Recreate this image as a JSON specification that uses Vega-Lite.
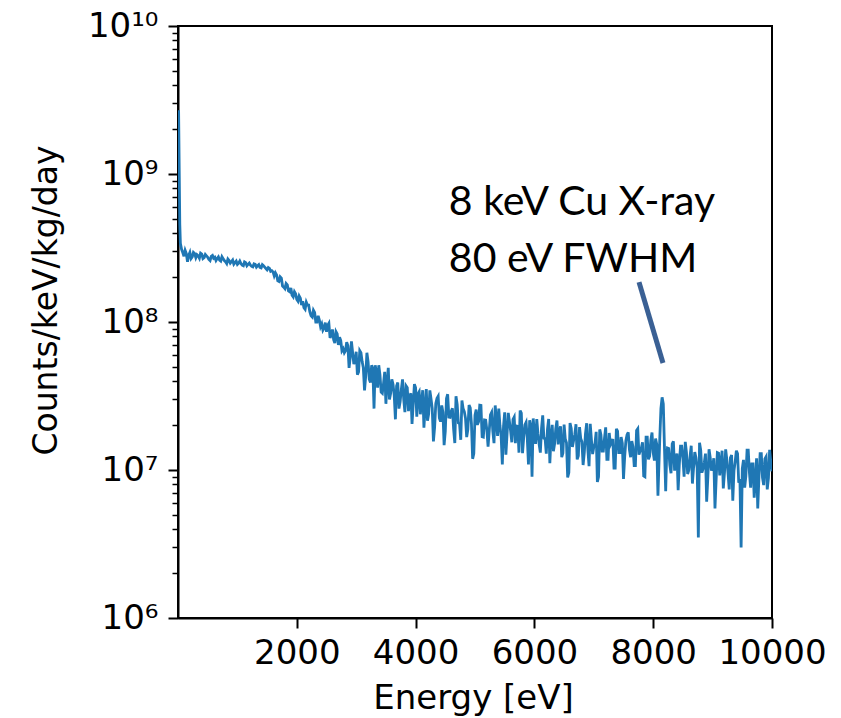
{
  "$schema": "https://vega.github.io/schema/vega-lite/v6.json",
  "width": 594,
  "height": 592,
  "autosize": {"type": "none"},
  "padding": {"left": 178, "top": 26, "right": 69, "bottom": 100},
  "background": "white",
  "config": {
    "view": {"stroke": "black", "strokeWidth": 2},
    "axis": {"labelFont": "DejaVu Sans", "titleFont": "DejaVu Sans", "labelColor": "black", "titleColor": "black", "titleFontWeight": "normal", "domainColor": "black", "tickColor": "black", "grid": false}
  },
  "datasets": {
    "spectrum": [
      {"E":10,"C":2.7e9},{"E":20,"C":1.1e9},{"E":30,"C":4.6e8},{"E":40,"C":3.4e8},{"E":60,"C":3.1e8},{"E":80,"C":2.95e8},{"E":120,"C":3.05e8},{"E":160,"C":2.55e8},{"E":200,"C":2.95e8},{"E":240,"C":2.75e8},{"E":280,"C":2.9e8},{"E":320,"C":2.85e8},{"E":360,"C":2.7e8},{"E":400,"C":2.88e8},{"E":440,"C":2.72e8},{"E":480,"C":2.8e8},{"E":520,"C":2.65e8},{"E":560,"C":2.78e8},{"E":600,"C":2.7e8},{"E":640,"C":2.6e8},{"E":680,"C":2.75e8},{"E":720,"C":2.58e8},{"E":760,"C":2.68e8},{"E":800,"C":2.55e8},{"E":840,"C":2.66e8},{"E":880,"C":2.5e8},{"E":920,"C":2.62e8},{"E":960,"C":2.52e8},{"E":1000,"C":2.45e8},{"E":1040,"C":2.58e8},{"E":1080,"C":2.42e8},{"E":1120,"C":2.55e8},{"E":1160,"C":2.4e8},{"E":1200,"C":2.5e8},{"E":1240,"C":2.38e8},{"E":1280,"C":2.47e8},{"E":1320,"C":2.35e8},{"E":1360,"C":2.44e8},{"E":1400,"C":2.32e8},{"E":1440,"C":2.4e8},{"E":1480,"C":2.3e8},{"E":1520,"C":2.33e8},{"E":1560,"C":2.2e8},{"E":1600,"C":2.18e8},
      {"E":1640,"C":2.15e8},{"E":1680,"C":1.9e8},{"E":1720,"C":2.02e8},{"E":1760,"C":1.75e8},{"E":1800,"C":1.68e8},{"E":1840,"C":1.78e8},{"E":1880,"C":1.6e8},{"E":1920,"C":1.52e8},{"E":1960,"C":1.6e8},{"E":2000,"C":1.42e8},{"E":2040,"C":1.5e8},{"E":2080,"C":1.3e8},{"E":2120,"C":1.25e8},{"E":2160,"C":1.36e8},{"E":2200,"C":1.3e8},{"E":2240,"C":1.1e8},{"E":2280,"C":1.2e8},{"E":2320,"C":1.0e8},{"E":2360,"C":1.1e8},{"E":2400,"C":9.3e7},{"E":2440,"C":8.8e7},{"E":2480,"C":9.9e7},{"E":2520,"C":9.5e7},{"E":2560,"C":7.8e7},{"E":2600,"C":8.9e7},{"E":2640,"C":7.2e7},{"E":2680,"C":8.3e7},{"E":2720,"C":7.9e7},{"E":2760,"C":6.4e7},{"E":2800,"C":6.2e7},{"E":2840,"C":7.3e7},{"E":2880,"C":4.9e7},{"E":2920,"C":7.4e7},{"E":2960,"C":5.2e7},{"E":3000,"C":6.3e7},
      {"E":3040,"C":4.6e7},{"E":3080,"C":6.2e7},{"E":3120,"C":4.9e7},{"E":3160,"C":4.3e7},{"E":3200,"C":5.4e7},{"E":3240,"C":3.9e7},{"E":3280,"C":4.8e7},{"E":3320,"C":5.1e7},{"E":3360,"C":3.6e7},{"E":3400,"C":4.4e7},{"E":3440,"C":3.3e7},{"E":3480,"C":4.6e7},{"E":3520,"C":3.9e7},{"E":3560,"C":3.0e7},{"E":3600,"C":4.1e7},{"E":3640,"C":3.2e7},{"E":3680,"C":3.7e7},{"E":3720,"C":2.6e7},{"E":3760,"C":3.5e7},{"E":3800,"C":3.0e7},{"E":3840,"C":3.7e7},{"E":3880,"C":2.5e7},{"E":3920,"C":3.3e7},{"E":3960,"C":2.8e7},{"E":4000,"C":3.6e7},
      {"E":4040,"C":3.27e7},{"E":4080,"C":2.38e7},{"E":4120,"C":3.46e7},{"E":4160,"C":2.59e7},{"E":4200,"C":2.15e7},{"E":4240,"C":3.45e7},{"E":4280,"C":2.61e7},{"E":4320,"C":1.94e7},{"E":4360,"C":3.05e7},{"E":4400,"C":2.25e7},{"E":4440,"C":2.73e7},{"E":4480,"C":1.47e7},{"E":4520,"C":3.04e7},{"E":4560,"C":2.28e7},{"E":4600,"C":2.5e7},{"E":4640,"C":1.89e7},{"E":4680,"C":3.15e7},{"E":4720,"C":2.08e7},{"E":4760,"C":1.6e7},{"E":4800,"C":2.6e7},{"E":4840,"C":2.24e7},{"E":4880,"C":1.88e7},{"E":4920,"C":2.63e7},{"E":4960,"C":1.19e7},{"E":5000,"C":2.35e7},{"E":5040,"C":2.02e7},{"E":5080,"C":2.74e7},{"E":5120,"C":1.68e7},{"E":5160,"C":2.18e7},{"E":5200,"C":1.86e7},
      {"E":5240,"C":1.85e7},{"E":5280,"C":2.45e7},{"E":5320,"C":1.52e7},{"E":5360,"C":2.21e7},{"E":5400,"C":2.6e7},{"E":5440,"C":1.69e7},{"E":5480,"C":1.97e7},{"E":5520,"C":1.27e7},{"E":5560,"C":2.43e7},{"E":5600,"C":1.83e7},{"E":5640,"C":2.2e7},{"E":5680,"C":1.52e7},{"E":5720,"C":1.97e7},{"E":5760,"C":2.52e7},{"E":5800,"C":1.3e7},{"E":5840,"C":2.02e7},{"E":5880,"C":1.64e7},{"E":5920,"C":2.17e7},{"E":5960,"C":9.0e6},{"E":6000,"C":1.78e7},{"E":6040,"C":2.21e7},{"E":6080,"C":1.49e7},{"E":6120,"C":1.91e7},{"E":6160,"C":1.64e7},{"E":6200,"C":1.29e7},{"E":6240,"C":2.21e7},{"E":6280,"C":1.69e7},{"E":6320,"C":1.34e7},{"E":6360,"C":1.91e7},{"E":6400,"C":1.49e7},
      {"E":6440,"C":1.97e7},{"E":6480,"C":1.3e7},{"E":6520,"C":1.62e7},{"E":6560,"C":8.9e6},{"E":6600,"C":2.08e7},{"E":6640,"C":1.43e7},{"E":6680,"C":1.74e7},{"E":6720,"C":1.18e7},{"E":6760,"C":1.95e7},{"E":6800,"C":1.55e7},{"E":6840,"C":1.31e7},{"E":6880,"C":2.07e7},{"E":6920,"C":1.06e7},{"E":6960,"C":1.6e7},{"E":7000,"C":1.43e7},{"E":7040,"C":1.81e7},{"E":7080,"C":9.0e6},{"E":7120,"C":1.73e7},{"E":7160,"C":1.34e7},{"E":7200,"C":1.94e7},{"E":7240,"C":1.18e7},{"E":7280,"C":1.48e7},{"E":7320,"C":1.62e7},{"E":7360,"C":1.03e7},{"E":7400,"C":1.83e7},{"E":7440,"C":1.31e7},{"E":7480,"C":1.52e7},{"E":7520,"C":1.23e7},{"E":7560,"C":1.73e7},{"E":7600,"C":1.37e7},
      {"E":7640,"C":1.57e7},{"E":7680,"C":1.07e7},{"E":7720,"C":1.85e7},{"E":7760,"C":1.27e7},{"E":7800,"C":1.41e7},{"E":7840,"C":9.1e6},{"E":7880,"C":1.67e7},{"E":7920,"C":1.18e7},{"E":7960,"C":1.59e7},{"E":8000,"C":1.31e7},{"E":8040,"C":1.63e7},{"E":8080,"C":6.7e6},{"E":8110,"C":1.6e7},{"E":8130,"C":2.6e7},{"E":8150,"C":3.1e7},{"E":8170,"C":2.8e7},{"E":8190,"C":1.4e7},{"E":8210,"C":7.2e6},{"E":8240,"C":1.41e7},{"E":8280,"C":1.08e7},{"E":8320,"C":1.5e7},{"E":8360,"C":9.9e6},{"E":8400,"C":1.29e7},{"E":8440,"C":1.1e7},{"E":8480,"C":1.45e7},{"E":8520,"C":9.0e6},{"E":8560,"C":1.31e7},{"E":8600,"C":1.0e7},{"E":8640,"C":1.46e7},{"E":8680,"C":1.04e7},{"E":8720,"C":1.21e7},{"E":8760,"C":3.5e6},{"E":8800,"C":1.36e7},{"E":8840,"C":1.02e7},{"E":8880,"C":1.29e7},{"E":8920,"C":8.9e6},{"E":8960,"C":1.21e7},{"E":9000,"C":1.05e7},
      {"E":9040,"C":5.5e6},{"E":9080,"C":1.31e7},{"E":9120,"C":9.2e6},{"E":9160,"C":1.35e7},{"E":9200,"C":9.6e6},{"E":9240,"C":1.17e7},{"E":9280,"C":7.4e6},{"E":9320,"C":1.26e7},{"E":9360,"C":9.9e6},{"E":9400,"C":1.35e7},{"E":9440,"C":8.2e6},{"E":9480,"C":3.0e6},{"E":9520,"C":1.17e7},{"E":9560,"C":9.1e6},{"E":9600,"C":1.36e7},{"E":9640,"C":7.6e6},{"E":9680,"C":1.1e7},{"E":9720,"C":8.5e6},{"E":9760,"C":5.5e6},{"E":9800,"C":1.29e7},{"E":9840,"C":8.9e6},{"E":9880,"C":1.19e7},{"E":9920,"C":7.4e6},{"E":9960,"C":1.37e7},{"E":10000,"C":9.8e6},
      {"E":100,"C":2.78e8},{"E":140,"C":2.9e8},{"E":180,"C":2.82e8},{"E":220,"C":2.68e8},{"E":260,"C":2.95e8},{"E":300,"C":2.72e8},{"E":340,"C":2.8e8},{"E":380,"C":2.92e8},{"E":420,"C":2.68e8},{"E":460,"C":2.86e8},{"E":500,"C":2.74e8},{"E":540,"C":2.6e8},{"E":580,"C":2.82e8},{"E":620,"C":2.74e8},{"E":660,"C":2.68e8},{"E":700,"C":2.62e8},{"E":740,"C":2.76e8},{"E":780,"C":2.6e8},{"E":820,"C":2.48e8},{"E":860,"C":2.6e8},{"E":900,"C":2.56e8},{"E":940,"C":2.46e8},{"E":980,"C":2.58e8},{"E":1020,"C":2.5e8},{"E":1060,"C":2.48e8},{"E":1100,"C":2.4e8},{"E":1140,"C":2.52e8},{"E":1180,"C":2.45e8},{"E":1220,"C":2.42e8},{"E":1260,"C":2.36e8},{"E":1300,"C":2.45e8},{"E":1340,"C":2.4e8},{"E":1380,"C":2.34e8},{"E":1420,"C":2.44e8},{"E":1460,"C":2.35e8},{"E":1500,"C":2.25e8},{"E":1540,"C":2.3e8},{"E":1580,"C":2.22e8},
      {"E":1620,"C":2.05e8},{"E":1660,"C":2.08e8},{"E":1700,"C":1.88e8},{"E":1740,"C":1.98e8},{"E":1780,"C":1.72e8},{"E":1820,"C":1.82e8},{"E":1860,"C":1.62e8},{"E":1900,"C":1.7e8},{"E":1940,"C":1.48e8},{"E":1980,"C":1.55e8},{"E":2020,"C":1.38e8},{"E":2060,"C":1.45e8},{"E":2100,"C":1.38e8},{"E":2140,"C":1.22e8},{"E":2180,"C":1.3e8},{"E":2220,"C":1.17e8},{"E":2260,"C":1.08e8},{"E":2300,"C":1.16e8},{"E":2340,"C":1.0e8},{"E":2380,"C":1.03e8},{"E":2420,"C":9.7e7},{"E":2460,"C":9.1e7},{"E":2500,"C":8.6e7},{"E":2540,"C":9.8e7},{"E":2580,"C":8.2e7},{"E":2620,"C":7.6e7},{"E":2660,"C":8.6e7},{"E":2700,"C":7.0e7},{"E":2740,"C":7.5e7},{"E":2780,"C":6.6e7},{"E":2820,"C":6.4e7},{"E":2860,"C":6.9e7},{"E":2900,"C":5.8e7},{"E":2940,"C":6.2e7},{"E":2980,"C":5.5e7},
      {"E":3020,"C":4.4e7},{"E":3060,"C":6.4e7},{"E":3100,"C":5.4e7},{"E":3140,"C":3.45e7},{"E":3180,"C":6.2e7},{"E":3220,"C":4.1e7},{"E":3260,"C":5.1e7},{"E":3300,"C":2.6e7},{"E":3340,"C":4.6e7},{"E":3380,"C":5.1e7},{"E":3420,"C":3.36e7},{"E":3460,"C":3.85e7},{"E":3500,"C":2.8e7},{"E":3540,"C":4.9e7},{"E":3580,"C":3.3e7},{"E":3620,"C":3.8e7},{"E":3660,"C":2.2e7},{"E":3700,"C":3.9e7},{"E":3740,"C":2.9e7},{"E":3780,"C":4.1e7},{"E":3820,"C":2.46e7},{"E":3860,"C":3.6e7},{"E":3900,"C":3.1e7},{"E":3940,"C":2.05e7},{"E":3980,"C":3.8e7},
      {"E":4020,"C":2.29e7},{"E":4060,"C":3.38e7},{"E":4100,"C":2.92e7},{"E":4140,"C":1.93e7},{"E":4180,"C":3.52e7},{"E":4220,"C":2.4e7},{"E":4260,"C":3.02e7},{"E":4300,"C":1.56e7},{"E":4340,"C":2.82e7},{"E":4380,"C":3.15e7},{"E":4420,"C":2.12e7},{"E":4460,"C":2.46e7},{"E":4500,"C":1.83e7},{"E":4540,"C":3.25e7},{"E":4580,"C":2.27e7},{"E":4620,"C":2.61e7},{"E":4660,"C":1.52e7},{"E":4700,"C":2.78e7},{"E":4740,"C":2.06e7},{"E":4780,"C":2.95e7},
      {"E":4820,"C":2.48e7},{"E":4860,"C":1.67e7},{"E":4900,"C":2.75e7},{"E":4940,"C":2.06e7},{"E":4980,"C":1.29e7},{"E":5020,"C":2.56e7},{"E":5060,"C":2.12e7},{"E":5100,"C":2.73e7},{"E":5140,"C":1.67e7},{"E":5180,"C":2.17e7},{"E":5220,"C":1.44e7},{"E":5260,"C":2.36e7},{"E":5300,"C":1.83e7},{"E":5340,"C":2.73e7},{"E":5380,"C":1.7e7},{"E":5420,"C":1.99e7},{"E":5460,"C":1.09e7},{"E":5500,"C":2.45e7},{"E":5540,"C":1.76e7},{"E":5580,"C":2.12e7},
      {"E":5620,"C":1.54e7},{"E":5660,"C":2.28e7},{"E":5700,"C":1.98e7},{"E":5740,"C":1.31e7},{"E":5780,"C":2.42e7},{"E":5820,"C":1.66e7},{"E":5860,"C":2.1e7},{"E":5900,"C":1.09e7},{"E":5940,"C":1.98e7},{"E":5980,"C":2.23e7},{"E":6020,"C":1.5e7},{"E":6060,"C":1.76e7},{"E":6100,"C":1.31e7},{"E":6140,"C":2.34e7},{"E":6180,"C":1.63e7},{"E":6220,"C":1.88e7},{"E":6260,"C":1.11e7},{"E":6300,"C":2.02e7},{"E":6340,"C":1.5e7},{"E":6380,"C":2.16e7},
      {"E":6420,"C":1.82e7},{"E":6460,"C":1.22e7},{"E":6500,"C":2.03e7},{"E":6540,"C":1.53e7},{"E":6580,"C":9.6e6},{"E":6620,"C":1.91e7},{"E":6660,"C":1.58e7},{"E":6700,"C":2.04e7},{"E":6740,"C":1.25e7},{"E":6780,"C":1.63e7},{"E":6820,"C":1.08e7},{"E":6860,"C":1.76e7},{"E":6900,"C":1.37e7},{"E":6940,"C":2.05e7},{"E":6980,"C":1.28e7},{"E":7020,"C":1.51e7},{"E":7060,"C":8.3e6},{"E":7100,"C":1.88e7},{"E":7140,"C":1.34e7},{"E":7180,"C":1.64e7},
      {"E":7220,"C":1.18e7},{"E":7260,"C":1.78e7},{"E":7300,"C":1.54e7},{"E":7340,"C":1.03e7},{"E":7380,"C":1.9e7},{"E":7420,"C":1.31e7},{"E":7460,"C":1.67e7},{"E":7500,"C":8.7e6},{"E":7540,"C":1.58e7},{"E":7580,"C":1.8e7},{"E":7620,"C":1.22e7},{"E":7660,"C":1.43e7},{"E":7700,"C":1.07e7},{"E":7740,"C":1.9e7},{"E":7780,"C":1.34e7},{"E":7820,"C":1.54e7},{"E":7860,"C":9.0e6},{"E":7900,"C":1.67e7},{"E":7940,"C":1.24e7},{"E":7980,"C":1.79e7},{"E":8020,"C":1.16e7},{"E":8060,"C":1.49e7},{"E":8225,"C":1.2e7},
      {"E":8260,"C":1.4e7},{"E":8300,"C":9.5e6},{"E":8340,"C":1.56e7},{"E":8380,"C":1.17e7},{"E":8420,"C":7.3e6},{"E":8460,"C":1.45e7},{"E":8500,"C":1.2e7},{"E":8540,"C":1.55e7},{"E":8580,"C":9.4e6},{"E":8620,"C":1.23e7},{"E":8660,"C":8.1e6},{"E":8700,"C":1.32e7},{"E":8740,"C":1.03e7},{"E":8780,"C":1.53e7},{"E":8820,"C":9.6e6},{"E":8860,"C":1.12e7},{"E":8900,"C":6.1e6},{"E":8940,"C":1.38e7},{"E":8980,"C":9.9e6},{"E":9020,"C":1.2e7},
      {"E":9060,"C":8.7e6},{"E":9100,"C":1.3e7},{"E":9140,"C":1.13e7},{"E":9180,"C":7.5e6},{"E":9220,"C":1.38e7},{"E":9260,"C":9.5e6},{"E":9300,"C":1.21e7},{"E":9340,"C":6.2e6},{"E":9380,"C":1.14e7},{"E":9420,"C":1.29e7},{"E":9460,"C":8.7e6},{"E":9500,"C":1.02e7},{"E":9540,"C":7.6e6},{"E":9580,"C":1.36e7},{"E":9620,"C":9.6e6},{"E":9660,"C":1.1e7},{"E":9700,"C":6.5e6},{"E":9740,"C":1.2e7},{"E":9780,"C":8.9e6},{"E":9820,"C":1.29e7},{"E":9860,"C":7.9e6},{"E":9900,"C":1.23e7},{"E":9940,"C":8.8e6},{"E":9980,"C":1.13e7}
    ]
  },
  "layer": [
    {
      "data": {"name": "spectrum"},
      "mark": {"type": "line", "color": "#1f77b4", "strokeWidth": 2.8, "clip": true},
      "encoding": {
        "x": {"field": "E", "type": "quantitative", "sort": "ascending",
          "scale": {"domain": [0, 10000], "nice": false, "zero": false},
          "axis": {"title": "Energy [eV]", "values": [2000, 4000, 6000, 8000, 10000], "format": "d", "labelFontSize": 34, "titleFontSize": 34, "tickSize": 10, "tickWidth": 2, "domainWidth": 2, "labelPadding": 8, "labelFlush": false, "titleX": 295, "titleY": 90, "titleBaseline": "alphabetic", "titleAnchor": "middle", "titleAlign": "center"}},
        "y": {"field": "C", "type": "quantitative",
          "scale": {"type": "log", "domain": [1000000, 10000000000], "nice": false},
          "axis": {"title": "Counts/keV/kg/day", "orient": "left", "values": [1000000, 10000000, 100000000, 1000000000, 10000000000],
            "labelExpr": "datum.value >= 9e9 ? '10¹⁰' : datum.value >= 9e8 ? '10⁹' : datum.value >= 9e7 ? '10⁸' : datum.value >= 9e6 ? '10⁷' : '10⁶'",
            "labelFontSize": 34, "titleFontSize": 33, "tickSize": 10, "tickWidth": 2, "domainWidth": 2, "labelPadding": 10, "labelFlush": false,
            "titleX": -132, "titleY": 274, "titleAngle": -90, "titleBaseline": "middle", "titleAlign": "center", "titleAnchor": "middle"}}
      }
    },
    {
      "data": {"values": [{"E": 7761, "C": 186000000, "E2": 8165, "C2": 52800000}]},
      "mark": {"type": "rule", "color": "#3a6094", "strokeWidth": 5, "strokeCap": "butt"},
      "encoding": {
        "x": {"field": "E", "type": "quantitative", "axis": null},
        "x2": {"field": "E2"},
        "y": {"field": "C", "type": "quantitative",
          "axis": {"title": null, "orient": "left", "labels": false, "domain": false, "tickSize": 6, "tickWidth": 1.5,
            "values": [2000000, 3000000, 4000000, 5000000, 6000000, 7000000, 8000000, 9000000, 20000000, 30000000, 40000000, 50000000, 60000000, 70000000, 80000000, 90000000, 200000000, 300000000, 400000000, 500000000, 600000000, 700000000, 800000000, 900000000, 2000000000, 3000000000, 4000000000, 5000000000, 6000000000, 7000000000, 8000000000, 9000000000]}},
        "y2": {"field": "C2"}
      }
    },
    {
      "data": {"values": [{"E": 4560, "C": 528000000, "label": "8 keV Cu X-ray"}, {"E": 4560, "C": 218000000, "label": "80 eV FWHM"}]},
      "mark": {"type": "text", "font": "Lato", "fontSize": 41, "color": "black", "align": "left", "baseline": "alphabetic"},
      "encoding": {
        "x": {"field": "E", "type": "quantitative", "axis": null},
        "y": {"field": "C", "type": "quantitative", "axis": null},
        "text": {"field": "label"}
      }
    }
  ],
  "resolve": {"axis": {"x": "independent", "y": "independent"}}
}
